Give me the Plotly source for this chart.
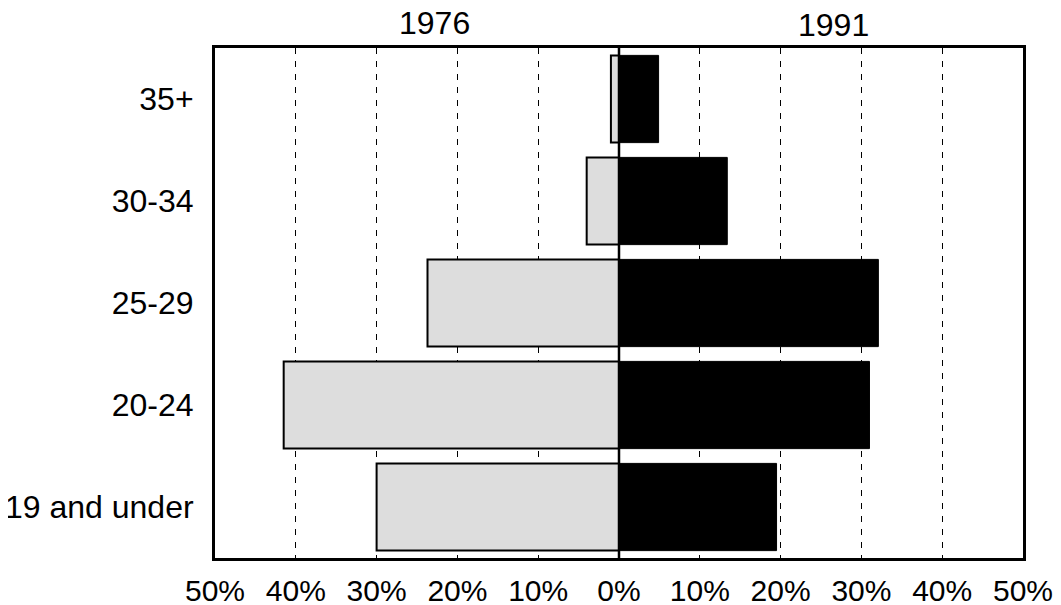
import plotly.graph_objects as go

categories = ["19 and under", "20-24", "25-29", "30-34", "35+"]
pct_1976 = [30.0, 41.5, 23.7, 4.0, 1.0]
pct_1991 = [19.5, 31.0, 32.1, 13.4, 4.9]
tick_vals = [-50, -40, -30, -20, -10, 0, 10, 20, 30, 40, 50]
tick_text = ["50%", "40%", "30%", "20%", "10%", "0%", "10%", "20%", "30%", "40%", "50%"]

FONT = "Liberation Sans, Arial, Helvetica, sans-serif"

fig = go.Figure()
fig.add_trace(go.Bar(
    y=categories, x=[-v for v in pct_1976], orientation="h", name="1976",
    marker=dict(color="#dddddd", line=dict(color="black", width=2)),
))
fig.add_trace(go.Bar(
    y=categories, x=pct_1991, orientation="h", name="1991",
    marker=dict(color="black", line=dict(color="black", width=1)),
))

# the page body adds an 8px offset; figure size and margins compensate for it
fig.update_layout(
    width=1053, height=597,
    margin=dict(l=207, r=38, t=40, b=47),
    barmode="relative", bargap=0.145,
    plot_bgcolor="white", paper_bgcolor="white",
    showlegend=False,
    font=dict(family=FONT, size=30, color="black"),
    xaxis=dict(
        range=[-50, 50], tickvals=tick_vals, ticktext=tick_text,
        showgrid=True, gridcolor="black", gridwidth=1, griddash="6px,7px",
        zeroline=False, showline=True, linecolor="black", linewidth=3, mirror=True,
        ticks="", tickfont=dict(size=30), ticklabelstandoff=4, automargin=False,
    ),
    yaxis=dict(
        categoryorder="array", categoryarray=categories,
        showgrid=False, zeroline=False, showline=True, linecolor="black",
        linewidth=3, mirror=True, ticks="", tickfont=dict(size=32),
        ticklabelstandoff=12, automargin=False,
    ),
    shapes=[dict(type="line", xref="x", yref="paper", x0=0, x1=0, y0=0, y1=1,
                 line=dict(color="black", width=2.5), layer="above")],
    annotations=[
        dict(text="1976", xref="x", yref="paper", x=-22.8, y=1.0, yshift=25,
             showarrow=False, yanchor="middle", font=dict(size=32)),
        dict(text="1991", xref="x", yref="paper", x=26.5, y=1.0, yshift=23,
             showarrow=False, yanchor="middle", font=dict(size=32)),
    ],
)

fig.write_html("out.html")
